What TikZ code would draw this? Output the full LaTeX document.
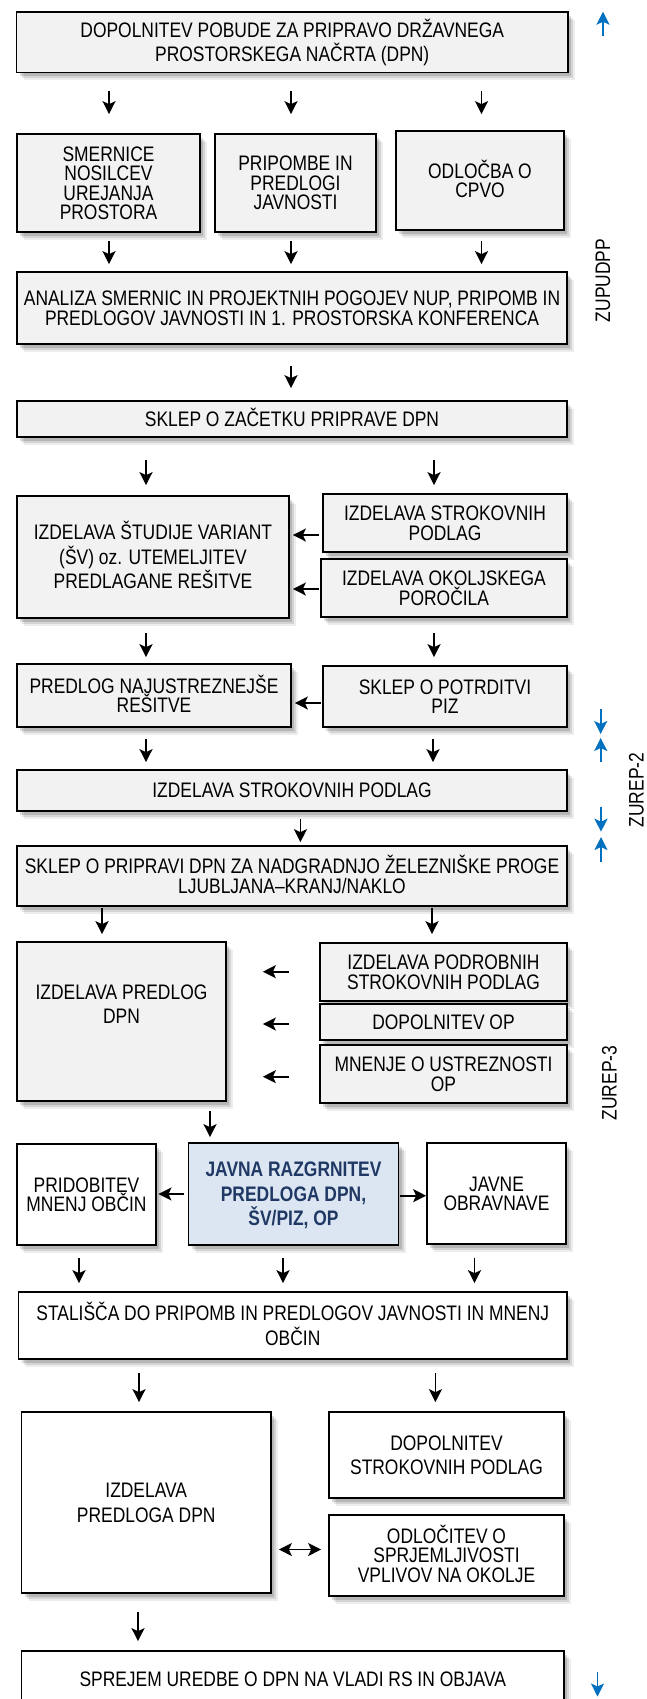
\documentclass[tikz,border=0pt]{standalone}
\usepackage{fontspec}
\setmainfont{Liberation Sans}[FakeStretch=0.83]
\usetikzlibrary{arrows.meta,shadows}
\definecolor{boxgray}{HTML}{F2F2F2}
\definecolor{jfill}{HTML}{DCE6F2}
\definecolor{jtext}{HTML}{1F3864}
\definecolor{zblue}{HTML}{0070C0}
\newcommand\fs{\rule{0pt}{.95em}}
\newcommand\ls{\rule[-.25em]{0pt}{.25em}}
\newcommand\tightfont{\fontsize{21}{19.5}\selectfont\lineskiplimit=-100pt\relax}
\newcommand\loosefont{\fontsize{21}{24.4}\selectfont\lineskiplimit=-100pt\relax}
\tikzset{
  box/.style={draw=black, line width=1.7pt, fill=boxgray, inner sep=0pt, align=center, font=\tightfont,
    drop shadow={shadow xshift=7pt, shadow yshift=-8pt, opacity=.07, fill=black},
    drop shadow={shadow xshift=5pt, shadow yshift=-6pt, opacity=.1, fill=black},
    drop shadow={shadow xshift=3pt, shadow yshift=-4pt, opacity=.14, fill=black}},
  wbox/.style={box, fill=white},
  jbox/.style={box, fill=jfill, text=jtext, font=\loosefont\bfseries},
  loose/.style={font=\loosefont},
  wh/.style 2 args={minimum width=#1pt, minimum height=#2pt},
  tip/.tip={Stealth[length=13pt,width=13pt,inset=3pt]},
  arr/.style={line width=1.6pt, -tip},
  darr/.style={line width=1.6pt, tip-tip},
  barr/.style={zblue, line width=1.9pt, -{Stealth[length=13pt,width=13pt,inset=3pt]}},
  side/.style={font=\tightfont, rotate=90, inner sep=0pt}
}
\newcommand\varr[5]{\coordinate (tmp) at (#3,0);
  \draw[arr, shorten <=#4pt, shorten >=#5pt] (#1.south -| tmp) -- (#2.north -| tmp);}
\newcommand\harr[5]{\coordinate (tmp) at (0,#3);
  \draw[arr, shorten <=#4pt, shorten >=#5pt] (#1.west |- tmp) -- (#2.east |- tmp);}
\begin{document}
\begin{tikzpicture}[x=1pt, y=-1pt]
\fill[white] (0,0) rectangle (646,1699);
\useasboundingbox (0,0) rectangle (646,1699);

\node[box, loose, wh={551.5}{60.5}] (top) at (292.25,42.25) {\fs DOPOLNITEV POBUDE ZA PRIPRAVO DRŽAVNEGA\\PROSTORSKEGA NAČRTA (DPN)\ls};
\node[box, wh={183}{98}] (smer) at (108.5,183) {\fs SMERNICE\\NOSILCEV\\UREJANJA\\PROSTORA\ls};
\node[box, wh={161}{98}] (prip) at (295.5,183) {\fs PRIPOMBE IN\\PREDLOGI\\JAVNOSTI\ls};
\node[box, wh={168}{99}] (odl) at (480,180.5) {\fs ODLOČBA O\\CPVO\ls};
\node[box, wh={550}{72}] (anal) at (292,308) {\fs ANALIZA SMERNIC IN PROJEKTNIH POGOJEV NUP, PRIPOMB IN\\PREDLOGOV JAVNOSTI IN 1. PROSTORSKA KONFERENCA\ls};
\node[box, wh={550}{36}] (sk1) at (292,419) {\fs SKLEP O ZAČETKU PRIPRAVE DPN\ls};
\node[box, loose, wh={272}{122}] (stud) at (153,557) {\fs IZDELAVA ŠTUDIJE VARIANT\\(ŠV) oz. UTEMELJITEV\\PREDLAGANE REŠITVE\ls};
\node[box, wh={244}{58}] (str1) at (445,523) {\fs IZDELAVA STROKOVNIH\\PODLAG\ls};
\node[box, wh={246}{58}] (okol) at (444,588) {\fs IZDELAVA OKOLJSKEGA\\POROČILA\ls};
\node[box, wh={274}{63}] (pred) at (154,695.5) {\fs PREDLOG NAJUSTREZNEJŠE\\REŠITVE\ls};
\node[box, wh={244}{61}] (potr) at (445,696.5) {\fs SKLEP O POTRDITVI\\PIZ\ls};
\node[box, wh={550}{41}] (str2) at (292,790.5) {\fs IZDELAVA STROKOVNIH PODLAG\ls};
\node[box, wh={550}{60}] (sk2) at (292,876) {\fs SKLEP O PRIPRAVI DPN ZA NADGRADNJO ŽELEZNIŠKE PROGE\\LJUBLJANA–KRANJ/NAKLO\ls};
\node[box, wh={209}{159}] (izd) at (121.5,1021.5) {};
\node[font=\loosefont, align=center, inner sep=0pt] (izdtxt) at (121.5,1004) {\fs IZDELAVA PREDLOG\\DPN\ls};
\node[box, wh={247}{58}] (podr) at (443.5,972) {\fs IZDELAVA PODROBNIH\\STROKOVNIH PODLAG\ls};
\node[box, wh={247}{36}] (dopop) at (443.5,1022) {\fs DOPOLNITEV OP\ls};
\node[box, wh={247}{58}] (mnen) at (443.5,1074) {\fs MNENJE O USTREZNOSTI\\OP\ls};
\node[wbox, wh={139}{101}] (prid) at (86.5,1194.5) {\fs PRIDOBITEV\\MNENJ OBČIN\ls};
\node[jbox, wh={210}{102}] (javna) at (293.5,1194) {\fs JAVNA RAZGRNITEV\\PREDLOGA DPN,\\ŠV/PIZ, OP\ls};
\node[wbox, wh={139}{101}] (javne) at (496.5,1193.5) {\fs JAVNE\\OBRAVNAVE\ls};
\node[wbox, loose, wh={548.5}{67}] (stal) at (292.75,1325.5) {\fs STALIŠČA DO PRIPOMB IN PREDLOGOV JAVNOSTI IN MNENJ\\OBČIN\ls};
\node[wbox, loose, wh={249.5}{181}] (izp) at (146.25,1502.5) {\fs IZDELAVA\\PREDLOGA DPN\ls};
\node[wbox, loose, wh={235}{86}] (dstr) at (446.5,1455) {\fs DOPOLNITEV\\STROKOVNIH PODLAG\ls};
\node[wbox, wh={235}{81}] (odlo) at (446.5,1555.5) {\fs ODLOČITEV O\\SPRJEMLJIVOSTI\\VPLIVOV NA OKOLJE\ls};
\node[wbox, wh={542.5}{56}] (sprej) at (292.75,1679) {\fs SPREJEM UREDBE O DPN NA VLADI RS IN OBJAVA\ls};

% vertical arrows
\varr{top}{smer}{109}{17.5}{19}
\varr{top}{prip}{291}{17.5}{19}
\varr{top}{odl}{481.5}{17.5}{16}
\varr{smer}{anal}{109}{8}{7}
\varr{prip}{anal}{291}{8}{7}
\varr{odl}{anal}{481.5}{10}{7}
\varr{anal}{sk1}{291}{21}{12}
\varr{sk1}{stud}{146}{22}{10}
\varr{sk1}{str1}{434}{22}{8}
\varr{stud}{pred}{146}{14}{6}
\varr{okol}{potr}{434}{15}{8}
\varr{pred}{str2}{146}{11}{7}
\varr{potr}{str2}{433}{11}{7}
\varr{str2}{sk2}{300.4}{7}{3}
\varr{sk2}{izd}{102}{1}{7}
\varr{sk2}{podr}{432}{1}{8}
\varr{izd}{javna}{210}{9}{5}
\varr{prid}{stal}{79}{12}{8}
\varr{javna}{stal}{283}{12}{8}
\varr{javne}{stal}{474.5}{13}{8}
\varr{stal}{izp}{139}{13}{9}
\varr{stal}{dstr}{435.4}{13}{9}
\varr{izp}{sprej}{138}{18}{9}

% horizontal arrows
\harr{str1}{stud}{535}{3}{3}
\harr{okol}{stud}{589}{1}{3}
\harr{potr}{pred}{703}{1}{3}
\harr{podr}{izd}{971.7}{30}{36}
\harr{dopop}{izd}{1024}{30}{36}
\harr{mnen}{izd}{1076.7}{30}{36}
\harr{javna}{prid}{1194}{3.5}{1.6}
\coordinate (tmp) at (0,1195.7);
\draw[arr, shorten <=0.5pt] (javna.east |- tmp) -- (javne.west |- tmp);
\coordinate (tmp) at (0,1549.5);
\draw[darr, shorten <=7pt, shorten >=7pt] (izp.east |- tmp) -- (odlo.west |- tmp);

% side labels
\node[side] (zup) at (603,280.5) {ZUPUDPP};
\node[side] (zr2) at (636.5,790) {ZUREP-2};
\node[side] (zr3) at (609.5,1083) {ZUREP-3};

% blue markers
\draw[barr] (603,36) -- (603,11.7);
\draw[barr] (600.7,709) -- (600.7,734);
\draw[barr] (600.7,762) -- (600.7,738);
\draw[barr] (601,806.7) -- (601,831.7);
\draw[barr] (601,861.7) -- (601,837);
\draw[barr] (597.5,1671.7) -- (597.5,1696.5);
\end{tikzpicture}
\end{document}
